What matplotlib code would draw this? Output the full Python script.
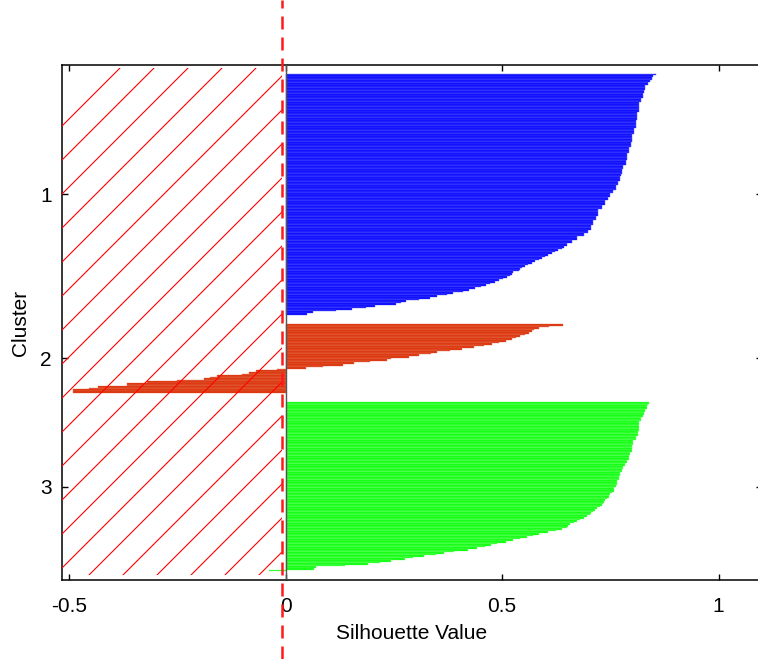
import numpy as np
import matplotlib
matplotlib.use("Agg")
import matplotlib.pyplot as plt
from matplotlib import transforms
from matplotlib.lines import Line2D
from matplotlib.patches import Rectangle

plt.rcParams['font.family'] = ['Liberation Sans', 'DejaVu Sans']

# ---------------- data ----------------
cluster_names = ['1', '2', '3']

sil_cluster1 = [
    0.856, 0.849, 0.846, 0.846, 0.842, 0.836, 0.836, 0.831, 0.831, 0.831,
    0.828, 0.828, 0.825, 0.825, 0.825, 0.821, 0.821, 0.821, 0.816, 0.816,
    0.816, 0.816, 0.816, 0.816, 0.812, 0.812, 0.812, 0.812, 0.812, 0.809,
    0.809, 0.809, 0.809, 0.809, 0.805, 0.805, 0.805, 0.805, 0.801, 0.801,
    0.801, 0.801, 0.801, 0.797, 0.797, 0.797, 0.793, 0.793, 0.793, 0.793,
    0.789, 0.789, 0.789, 0.789, 0.786, 0.786, 0.786, 0.780, 0.780, 0.780,
    0.776, 0.776, 0.776, 0.774, 0.772, 0.772, 0.772, 0.768, 0.768, 0.768,
    0.763, 0.763, 0.763, 0.756, 0.756, 0.749, 0.749, 0.745, 0.745, 0.738,
    0.738, 0.738, 0.730, 0.730, 0.730, 0.722, 0.722, 0.722, 0.722, 0.717,
    0.717, 0.717, 0.711, 0.711, 0.711, 0.706, 0.706, 0.706, 0.699, 0.699,
    0.688, 0.688, 0.672, 0.672, 0.661, 0.661, 0.649, 0.649, 0.644, 0.638,
    0.630, 0.622, 0.615, 0.607, 0.600, 0.592, 0.585, 0.575, 0.568, 0.560,
    0.553, 0.546, 0.542, 0.538, 0.526, 0.522, 0.518, 0.510, 0.502, 0.492,
    0.484, 0.472, 0.462, 0.452, 0.437, 0.424, 0.409, 0.386, 0.372, 0.349,
    0.334, 0.307, 0.278, 0.266, 0.255, 0.207, 0.185, 0.153, 0.117, 0.063, 0.050,
]

sil_cluster2 = [
    0.640, 0.609, 0.584, 0.574, 0.568, 0.561, 0.553, 0.542, 0.532, 0.522,
    0.508, 0.492, 0.476, 0.457, 0.434, 0.407, 0.380, 0.349, 0.336, 0.307,
    0.284, 0.243, 0.234, 0.195, 0.158, 0.132, 0.086, 0.047, -0.020, -0.070,
    -0.085, -0.101, -0.159, -0.175, -0.190, -0.251, -0.321, -0.367, -0.367, -0.434,
    -0.455, -0.491, -0.491,
]

sil_cluster3 = [
    0.839, 0.836, 0.834, 0.834, 0.831, 0.831, 0.828, 0.828, 0.825, 0.821,
    0.821, 0.821, 0.817, 0.817, 0.817, 0.817, 0.817, 0.817, 0.813, 0.813,
    0.813, 0.809, 0.809, 0.809, 0.803, 0.803, 0.803, 0.800, 0.800, 0.800,
    0.800, 0.796, 0.796, 0.792, 0.792, 0.792, 0.788, 0.788, 0.784, 0.784,
    0.780, 0.780, 0.776, 0.776, 0.773, 0.773, 0.769, 0.769, 0.769, 0.765,
    0.765, 0.765, 0.762, 0.759, 0.759, 0.759, 0.754, 0.749, 0.748, 0.746,
    0.742, 0.738, 0.736, 0.733, 0.730, 0.725, 0.719, 0.714, 0.711, 0.706,
    0.703, 0.695, 0.688, 0.680, 0.672, 0.665, 0.657, 0.653, 0.649, 0.638,
    0.625, 0.605, 0.585, 0.572, 0.557, 0.541, 0.526, 0.508, 0.488, 0.475,
    0.460, 0.442, 0.420, 0.388, 0.366, 0.346, 0.320, 0.295, 0.276, 0.243,
    0.217, 0.190, 0.137, 0.070, 0.066, -0.040,
]

x_ticks = [-0.5, 0, 0.5, 1]
x_tick_labels = ['-0.5', '0', '0.5', '1']
x_label = 'Silhouette Value'
y_label = 'Cluster'
x_limits = (-0.518, 1.1)
threshold_x = -0.009          # dashed red reference line

# ---------------- style ----------------
bar_colors = ['#0000ff', '#d92b00', '#00ff00']
bar_edges = ['#5a5aff', '#e8755a', '#80ff80']
FONT = 15

W, H, DPI = 758, 659, 100
fig = plt.figure(figsize=(W / DPI, H / DPI), dpi=DPI)
ax_left_px, ax_right_px, ax_top_px, ax_bot_px = 61.7, 761.8, 65, 580
ax = fig.add_axes([ax_left_px / W, (H - ax_bot_px) / H,
                   (ax_right_px - ax_left_px) / W, (ax_bot_px - ax_top_px) / H])

clusters = [sil_cluster1, sil_cluster2, sil_cluster3]
n = sum(len(c) for c in clusters)
space = max(int(np.floor(0.02 * n)), 2)
pos = space
tick_pos = []
for vals, col, ec in zip(clusters, bar_colors, bar_edges):
    y = np.arange(pos + 1, pos + 1 + len(vals))
    ax.barh(y, vals, height=1.0, color=col, edgecolor=ec, linewidth=0.3, zorder=2)
    tick_pos.append(y.mean())
    pos += len(vals) + space
total = pos

ax.set_xlim(*x_limits)
ax.set_ylim(total, 1)
ax.autoscale(False)
ax.axvline(0, color='#555555', lw=1.0, zorder=3)

ax.set_xticks(x_ticks, x_tick_labels)
ax.set_yticks(tick_pos, cluster_names)
ax.tick_params(direction='in', length=4, width=1, top=True, right=True,
               labelsize=FONT, colors='black')
ax.tick_params(axis='x', pad=12)
ax.tick_params(axis='y', pad=7)
ax.set_xlabel(x_label, fontsize=FONT, labelpad=6)
ax.set_ylabel(y_label, fontsize=FONT, labelpad=7.5)
for s in ax.spines.values():
    s.set_linewidth(1.1)
    s.set_color('black')

# ---------------- hatched region (decoration) ----------------
hatch_rect = Rectangle((x_limits[0], 3), threshold_x - x_limits[0], total - 6,
                       transform=ax.transData, fill=False, visible=False)
ax.add_patch(hatch_rect)
bx0, by0 = ax.transData.transform((x_limits[0], total - 3))
bx1, by1 = ax.transData.transform((threshold_x, 3))
spacing = 34.0
d0 = 188 - H           # offset of first hatch line (x - y in display px)
d_max = bx1 - by0
d = d0
while d <= d_max:
    ln = Line2D([by0 + d, by1 + d], [by0, by1], transform=transforms.IdentityTransform(),
                color='#ff0000', lw=0.8, zorder=5)
    ln.set_clip_path(hatch_rect)
    fig.add_artist(ln)
    d += spacing

# ---------------- dashed reference line across whole figure ----------------
blend = transforms.blended_transform_factory(ax.transData, fig.transFigure)
fig.add_artist(Line2D([threshold_x, threshold_x], [0, 1], transform=blend,
                      color='#ff1a1a', lw=1.8, linestyle=(0, (5.2, 3.2)), zorder=10))

fig.savefig('out.png', dpi=DPI)
